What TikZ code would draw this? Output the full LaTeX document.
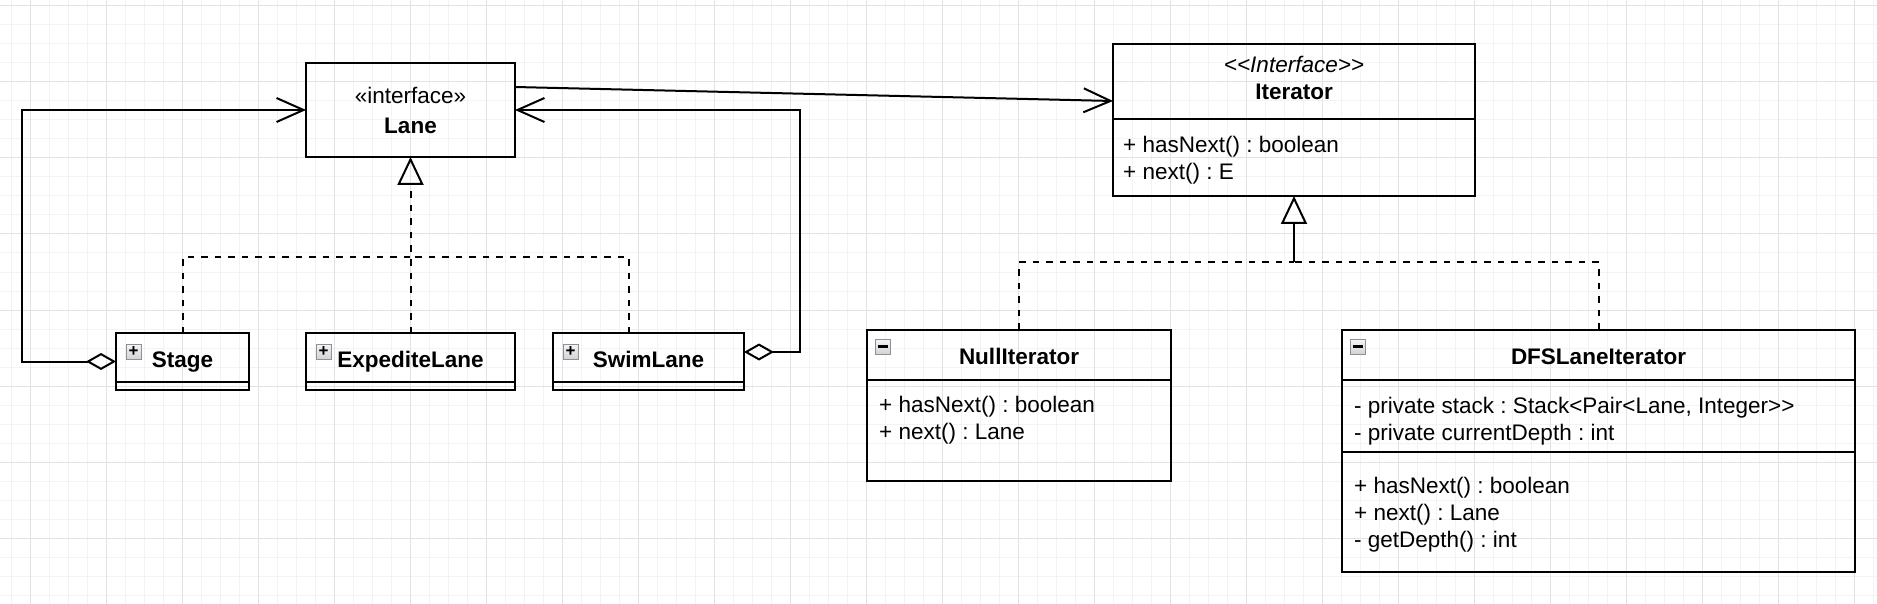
\documentclass[tikz,border=0pt]{standalone}
\usepackage{fontspec}
\setmainfont{Liberation Sans}
\usetikzlibrary{arrows.meta, positioning}
\frenchspacing

\definecolor{gridminor}{HTML}{F3F3F3}
\definecolor{gridmajor}{HTML}{E2E2E2}
\definecolor{btnedge}{HTML}{8E8E9C}

\begin{document}
\begin{tikzpicture}[x=1pt, y=-1pt, every node/.style={font=\fontsize{22.5}{27}\selectfont}]
    \tikzstyle{classhead}=[draw, line width=2pt, inner sep=0pt, outer sep=0pt, text height=19pt, text depth=0pt]
    \tikzstyle{compart}=[draw, line width=2pt, inner sep=0pt, outer sep=0pt]
    \tikzstyle{member}=[anchor=base west, inner sep=0pt]
    \tikzstyle{btn}=[draw=btnedge, line width=1pt, top color=gray!8, bottom color=gray!35, minimum size=15pt, inner sep=0pt, font=\fontsize{17}{17}\selectfont\bfseries]
    \tikzstyle{assoc}=[line width=2pt, {Diamond[open, length=30pt, width=17pt]}-{Straight Barb[length=27pt, width=24pt]}]
    \tikzstyle{realize}=[line width=2pt, dash pattern=on 6.5pt off 7pt]

    % background grid
    \useasboundingbox (0,0) rectangle (1877,604);
    \fill[white] (0,0) rectangle (1877,604);
    \foreach \k in {-1,...,97} \draw[gridminor, line width=1pt] (30.5+19*\k,0) -- (30.5+19*\k,604);
    \foreach \k in {0,...,31} \draw[gridminor, line width=1pt] (0,6+19*\k) -- (1877,6+19*\k);
    \foreach \k in {0,...,24} \draw[gridmajor, line width=1pt] (30.5+76*\k,0) -- (30.5+76*\k,604);
    \foreach \k in {0,...,7} \draw[gridmajor, line width=1pt] (0,6+76*\k) -- (1877,6+76*\k);

    % Lane and its implementations
    \node[compart, minimum width=209pt, minimum height=94pt, align=center, font=\fontsize{22.5}{30}\selectfont] (lane) at (410.5,110) {«interface»\\\textbf{Lane}};

    \node[classhead, minimum width=133pt, minimum height=49pt] (stageHead) at (182.5,357.5) {\textbf{Stage}};
    \node[compart, minimum width=133pt, minimum height=8pt, below=0pt of stageHead] (stageBody) {};
    \node[btn] (stageBtn) at ([xshift=17.5pt, yshift=-18.5pt]stageHead.north west) {+};

    \node[classhead, minimum width=209pt, minimum height=49pt] (expHead) at (410.5,357.5) {\textbf{ExpediteLane}};
    \node[compart, minimum width=209pt, minimum height=8pt, below=0pt of expHead] (expBody) {};
    \node[btn] (expBtn) at ([xshift=17.5pt, yshift=-18.5pt]expHead.north west) {+};

    \node[classhead, minimum width=191pt, minimum height=49pt] (swimHead) at (648.5,357.5) {\textbf{SwimLane}};
    \node[compart, minimum width=191pt, minimum height=8pt, below=0pt of swimHead] (swimBody) {};
    \node[btn] (swimBtn) at ([xshift=17.5pt, yshift=-18.5pt]swimHead.north west) {+};

    % Iterator side
    \node[compart, minimum width=362pt, minimum height=75pt] (iterHead) at (1294,81.5) {};
    \node[align=center, inner sep=0pt] (iterTitle) at ([yshift=4pt]iterHead.center) {\textit{<{}<Interface>{}>}\\\textbf{Iterator}};
    \node[compart, minimum width=362pt, minimum height=77pt, below=0pt of iterHead] (iterBody) {};
    \node[member] (iterM1) at (1123,152.7) {+ hasNext() : boolean};
    \node[member] (iterM2) at (1123,179.5) {+ next() : E};

    \node[classhead, minimum width=304pt, minimum height=50pt] (nullHead) at (1019,354.5) {\textbf{NullIterator}};
    \node[compart, minimum width=304pt, minimum height=101.5pt, below=0pt of nullHead] (nullBody) {};
    \node[btn] (nullBtn) at ([xshift=16pt, yshift=-17pt]nullHead.north west) {\rule{10pt}{2.5pt}};
    \node[member] (nullM1) at (879,412.5) {+ hasNext() : boolean};
    \node[member] (nullM2) at (879,439.5) {+ next() : Lane};

    \node[classhead, minimum width=513pt, minimum height=50pt] (dfsHead) at (1598.5,354.5) {\textbf{DFSLaneIterator}};
    \node[compart, minimum width=513pt, minimum height=72pt, below=0pt of dfsHead] (dfsAttrs) {};
    \node[compart, minimum width=513pt, minimum height=120.5pt, below=0pt of dfsAttrs] (dfsOps) {};
    \node[btn] (dfsBtn) at ([xshift=16pt, yshift=-17pt]dfsHead.north west) {\rule{10pt}{2.5pt}};
    \node[member] (dfsA1) at (1354,413) {- private stack : Stack<Pair<Lane, Integer>{}>};
    \node[member] (dfsA2) at (1354,440) {- private currentDepth : int};
    \node[member] (dfsM1) at (1354,493) {+ hasNext() : boolean};
    \node[member] (dfsM2) at (1354,520) {+ next() : Lane};
    \node[member] (dfsM3) at (1354,547.5) {- getDepth() : int};

    % associations
    \draw[assoc] ([yshift=-4pt]stageHead.west) -- ++(-94.5,0) |- (lane.west);
    \draw[assoc] ([yshift=5.5pt]swimHead.east) -- ++(56,0) |- (lane.east);
    \draw[line width=2pt, -{Straight Barb[length=27pt, width=24pt]}] ([yshift=23pt]lane.east) -- ([yshift=-19.5pt]iterHead.west);

    % realizations
    \coordinate (laneJoin) at (410.5,257);
    \draw[realize] (stageHead.north) |- (laneJoin);
    \draw[realize] ([xshift=-19.5pt]swimHead.north) |- (laneJoin);
    \draw[realize, -{Triangle[open, length=28pt, width=26pt]}] (expHead.north) -- (lane.south);

    \coordinate (iterJoin) at (1294,262);
    \draw[realize] (nullHead.north) |- (iterJoin);
    \draw[realize] (dfsHead.north) |- (iterJoin);
    \draw[line width=2pt, -{Triangle[open, length=28pt, width=26pt]}] (iterJoin) -- (iterBody.south);
\end{tikzpicture}
\end{document}
